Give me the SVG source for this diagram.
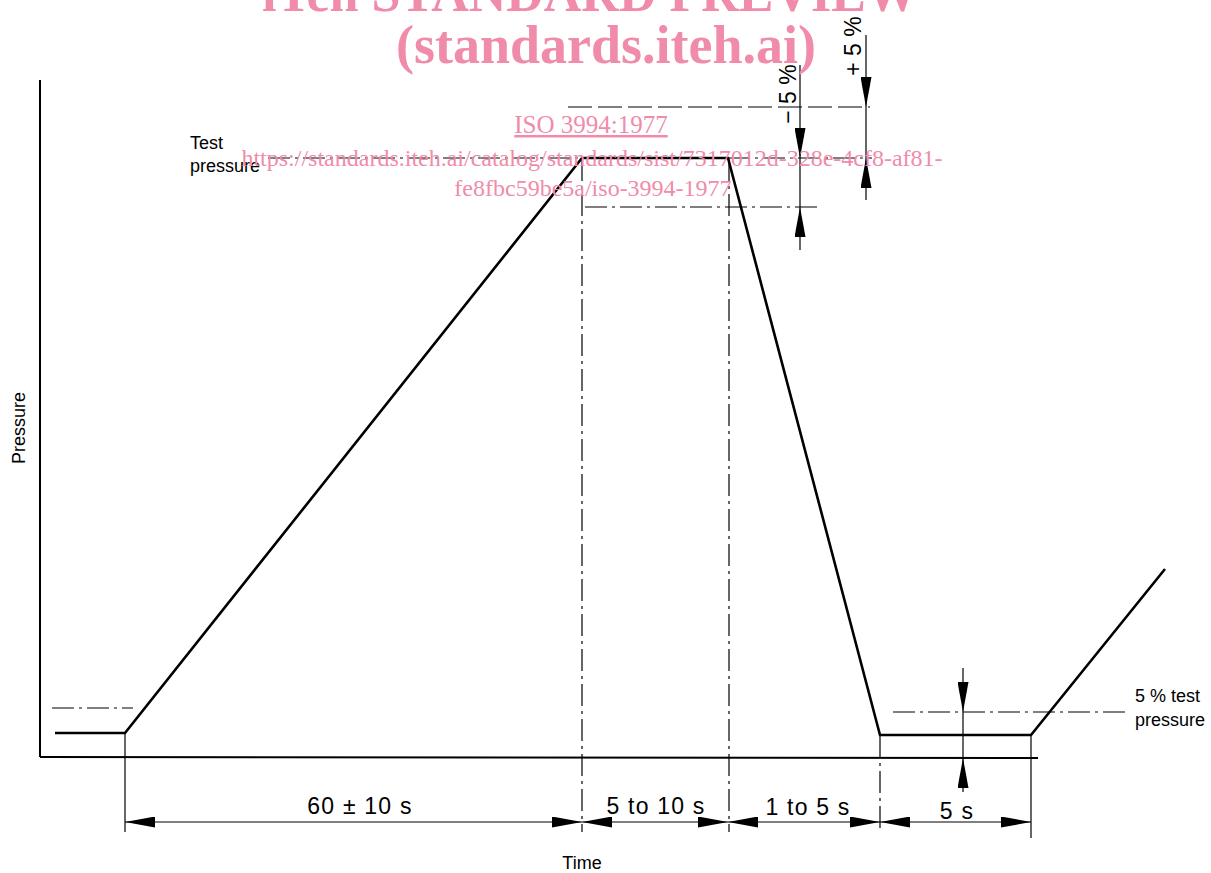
<svg xmlns="http://www.w3.org/2000/svg" width="1211" height="873" viewBox="0 0 1211 873">
<style>
.ax{stroke:#000;stroke-width:2;fill:none}
.cv{stroke:#000;stroke-width:2.6;fill:none;stroke-linejoin:miter}
.th{stroke:#000;stroke-width:1.2;fill:none}
.ch{stroke:#000;stroke-width:1.2;fill:none;stroke-dasharray:22 5 3 5}
.dsh{stroke:#000;stroke-width:1.2;fill:none;stroke-dasharray:24 6}
.t{font-family:"Liberation Sans",Arial,sans-serif;fill:#000}
.lb{font-size:18px}
.dm{font-size:23px;letter-spacing:1.2px}
.rt{font-size:23px}
.wm{font-family:"Liberation Serif","Times New Roman",serif;fill:#f08caa}
</style>
<defs>
<marker id="arr" viewBox="0 0 30 11" refX="30" refY="5.5" markerWidth="30" markerHeight="11" markerUnits="userSpaceOnUse" orient="auto-start-reverse">
<path d="M0,0 L30,5.5 L0,11 z" fill="#000"/>
</marker>
</defs>

<g id="axes">
<line class="ax" x1="40" y1="80" x2="40" y2="757"/>
<line class="ax" x1="40" y1="757" x2="1038" y2="758"/>
</g>

<g id="curve">
<polyline class="cv" points="55,733 125,733 582,158 728,158 880,735 1031,735 1165,569"/>
</g>

<g id="reference-lines">
<line class="ch" x1="52" y1="708" x2="133" y2="708"/>
<line class="ch" x1="268" y1="158" x2="582" y2="158"/>
<line class="ch" x1="728" y1="158" x2="872" y2="158"/>
<line class="dsh" x1="568" y1="107" x2="870" y2="107"/>
<line class="ch" x1="585" y1="207" x2="820" y2="207"/>
<line class="ch" x1="893" y1="712" x2="1128" y2="712"/>
<line class="ch" x1="582" y1="159" x2="582" y2="832"/>
<line class="ch" x1="729" y1="159" x2="729" y2="832"/>
<line class="th" x1="125" y1="733" x2="125" y2="832"/>
<line class="ch" x1="880" y1="736" x2="880" y2="832"/>
<line class="th" x1="1031" y1="736" x2="1031" y2="838"/>
</g>

<g id="connectors">
<line class="th" x1="125" y1="822" x2="582" y2="822" marker-start="url(#arr)" marker-end="url(#arr)"/>
<line class="th" x1="582" y1="822" x2="728" y2="822" marker-start="url(#arr)" marker-end="url(#arr)"/>
<line class="th" x1="728" y1="822" x2="880" y2="822" marker-start="url(#arr)" marker-end="url(#arr)"/>
<line class="th" x1="880" y1="822" x2="1031" y2="822" marker-start="url(#arr)" marker-end="url(#arr)"/>
<line class="th" x1="800" y1="65" x2="800" y2="158" marker-end="url(#arr)"/>
<line class="th" x1="800" y1="158" x2="800" y2="207"/>
<line class="th" x1="800" y1="250" x2="800" y2="207" marker-end="url(#arr)"/>
<line class="th" x1="866" y1="35" x2="866" y2="107" marker-end="url(#arr)"/>
<line class="th" x1="866" y1="107" x2="866" y2="158"/>
<line class="th" x1="866" y1="200" x2="866" y2="158" marker-end="url(#arr)"/>
<line class="th" x1="963" y1="668" x2="963" y2="712" marker-end="url(#arr)"/>
<line class="th" x1="963" y1="712" x2="963" y2="758"/>
<line class="th" x1="963" y1="792" x2="963" y2="758" marker-end="url(#arr)"/>
</g>

<g id="labels">
<text class="t lb" x="190" y="149">Test</text>
<text class="t lb" x="190" y="172">pressure</text>
<text class="t lb" x="1135" y="702">5 % test</text>
<text class="t lb" x="1135" y="726">pressure</text>
<text class="t lb" x="582" y="869" text-anchor="middle">Time</text>
<text class="t lb" transform="translate(25,428) rotate(-90)" text-anchor="middle">Pressure</text>
<text class="t rt" transform="translate(796,94) rotate(-90)" text-anchor="middle">− 5 %</text>
<text class="t rt" transform="translate(861,46) rotate(-90)" text-anchor="middle">+ 5 %</text>
<text class="t dm" x="360" y="814" text-anchor="middle">60 ± 10 s</text>
<text class="t dm" x="656" y="814" text-anchor="middle">5 to 10 s</text>
<text class="t dm" x="808" y="815" text-anchor="middle">1 to 5 s</text>
<text class="t dm" x="957" y="819" text-anchor="middle">5 s</text>
</g>

<g id="watermark">
<text class="wm" x="590" y="11" font-size="52" font-weight="bold" text-anchor="middle">iTeh STANDARD PREVIEW</text>
<text class="wm" x="606" y="63" font-size="54" font-weight="bold" text-anchor="middle">(standards.iteh.ai)</text>
<text class="wm" x="591" y="133" font-size="25" text-anchor="middle" text-decoration="underline">ISO 3994:1977</text>
<text class="wm" x="592" y="166" font-size="24" text-anchor="middle">https://standards.iteh.ai/catalog/standards/sist/7317012d-328e-4cf8-af81-</text>
<text class="wm" x="593" y="196" font-size="24" text-anchor="middle">fe8fbc59be5a/iso-3994-1977</text>
</g>
</svg>
